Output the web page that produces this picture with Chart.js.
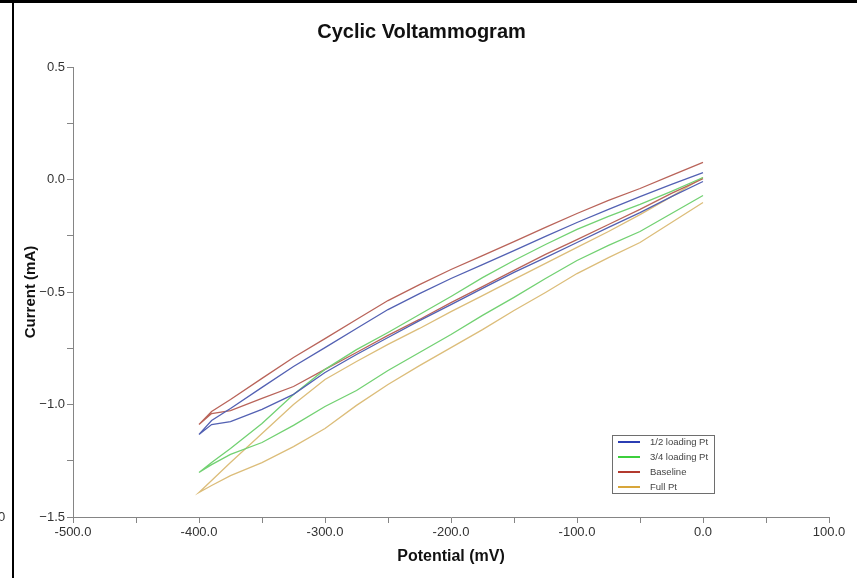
<!DOCTYPE html>
<html><head><meta charset="utf-8">
<script src="https://cdn.jsdelivr.net/npm/chart.js@4.4.0/dist/chart.umd.min.js"></script>
<style>
html,body{margin:0;padding:0;background:#fff;}
#wrap{position:relative;width:861px;height:578px;overflow:hidden;background:#fff;}
#c{position:absolute;left:0;top:0;}
.topline{position:absolute;left:0;top:0;width:857px;height:3px;background:#000;}
.leftline{position:absolute;left:12px;top:0;width:2px;height:578px;background:#000;}
.stray{position:absolute;left:-2px;top:509px;font:13px "Liberation Sans",Arial,sans-serif;color:#333;}
</style></head>
<body>
<div id="wrap">
<canvas id="c" width="861" height="578"></canvas>
<div class="topline"></div><div class="leftline"></div><span class="stray">0</span>
</div>
<script>
// Potential grid (mV) shared by both scan branches
const potential = [-400,-390,-375,-350,-325,-300,-275,-250,-225,-200,-175,-150,-125,-100,-75,-50,-25,0];

// Current (mA) — upper branch / lower branch for each sample
const halfUpper    = [-1.133,-1.071,-1.018,-0.924,-0.831,-0.747,-0.662,-0.578,-0.507,-0.440,-0.378,-0.316,-0.253,-0.191,-0.133,-0.076,-0.022,0.031];
const halfLower    = [-1.133,-1.089,-1.076,-1.022,-0.955,-0.858,-0.778,-0.702,-0.627,-0.556,-0.484,-0.413,-0.347,-0.280,-0.213,-0.147,-0.076,-0.009];
const threeQUpper  = [-1.302,-1.258,-1.196,-1.084,-0.956,-0.844,-0.756,-0.680,-0.600,-0.520,-0.436,-0.360,-0.289,-0.222,-0.164,-0.111,-0.053,0.009];
const threeQLower  = [-1.302,-1.267,-1.222,-1.169,-1.093,-1.009,-0.938,-0.849,-0.769,-0.689,-0.604,-0.524,-0.440,-0.360,-0.293,-0.231,-0.151,-0.071];
const baseUpper    = [-1.089,-1.031,-0.978,-0.884,-0.791,-0.707,-0.622,-0.538,-0.467,-0.400,-0.338,-0.276,-0.213,-0.151,-0.093,-0.040,0.018,0.076];
const baseLower    = [-1.089,-1.040,-1.027,-0.973,-0.920,-0.844,-0.769,-0.693,-0.622,-0.547,-0.476,-0.404,-0.333,-0.267,-0.200,-0.133,-0.062,0.004];
const fullUpper    = [-1.391,-1.338,-1.258,-1.129,-1.000,-0.889,-0.809,-0.733,-0.662,-0.587,-0.516,-0.444,-0.373,-0.302,-0.231,-0.156,-0.076,0.009];
const fullLower    = [-1.391,-1.360,-1.316,-1.258,-1.187,-1.107,-1.004,-0.911,-0.827,-0.747,-0.667,-0.582,-0.502,-0.418,-0.347,-0.280,-0.191,-0.102];

const seriesLabels = ['1/2 loading Pt','3/4 loading Pt','Baseline','Full Pt'];
const seriesColors = ['#5361b3','#72d172','#b9645a','#dcbd7a'];
const legendColors = ['#2b3db3','#3ccf3c','#b33a2f','#d8a63a'];

const xTickValues = [-500,-400,-300,-200,-100,0,100];
const yTickValues = [0.5,0.0,-0.5,-1.0,-1.5];

function loop(upper, lower){
  const pts = [];
  for (let i = potential.length-1; i >= 0; i--) pts.push({x: potential[i], y: upper[i]});
  for (let i = 1; i < potential.length; i++) pts.push({x: potential[i], y: lower[i]});
  return pts;
}
const branches = [[halfUpper,halfLower],[threeQUpper,threeQLower],[baseUpper,baseLower],[fullUpper,fullLower]];

const FONT = '"Liberation Sans",Arial,sans-serif';

const legendBox = {
  id: 'legendBox',
  afterDraw(chart){
    const ctx = chart.ctx, a = chart.chartArea;
    const x0 = a.right - 217, y0 = a.bottom - 82, w = 102, h = 58;
    ctx.save();
    ctx.fillStyle = '#fff';
    ctx.fillRect(x0, y0, w, h);
    ctx.strokeStyle = '#6e6e6e';
    ctx.lineWidth = 1;
    ctx.strokeRect(x0+0.5, y0+0.5, w, h);
    ctx.font = '9.5px "Liberation Sans",Arial,sans-serif';
    ctx.textBaseline = 'middle';
    ctx.textAlign = 'left';
    seriesLabels.forEach((lab, i) => {
      const yy = y0 + 7 + i*15;
      ctx.strokeStyle = legendColors[i];
      ctx.lineWidth = 2;
      ctx.beginPath(); ctx.moveTo(x0+6, yy); ctx.lineTo(x0+28, yy); ctx.stroke();
      ctx.fillStyle = '#444';
      ctx.fillText(lab, x0+38, yy);
    });
    ctx.restore();
  }
};

new Chart(document.getElementById('c'), {
  type: 'scatter',
  data: {
    datasets: seriesLabels.map((lab, i) => ({
      label: lab,
      data: loop(branches[i][0], branches[i][1]),
      showLine: true,
      borderColor: seriesColors[i],
      backgroundColor: seriesColors[i],
      borderWidth: 1.3,
      pointRadius: 0,
      tension: 0
    }))
  },
  options: {
    responsive: false,
    animation: false,
    events: [],
    layout: { padding: { left: 14, right: 32, top: 0, bottom: 0 } },
    plugins: {
      legend: { display: false },
      tooltip: { enabled: false },
      title: {
        display: true,
        text: 'Cyclic Voltammogram',
        color: '#111',
        font: { family: FONT, size: 20, weight: 'bold' },
        padding: { top: 20, bottom: 23 }
      }
    },
    scales: {
      x: {
        type: 'linear', min: -500, max: 100,
        afterFit(s){ s.height = 61; },
        border: { display: true, color: '#858585', width: 1 },
        grid: { drawOnChartArea: false, drawTicks: true, tickLength: 6, color: '#858585' },
        ticks: {
          stepSize: 50, autoSkip: false, maxRotation: 0, padding: 2,
          color: '#333', font: { family: FONT, size: 13 },
          callback: v => xTickValues.includes(v) ? v.toFixed(1) : ''
        },
        title: {
          display: true, text: 'Potential (mV)', color: '#111',
          font: { family: FONT, size: 16, weight: 'bold' },
          padding: { top: 0, bottom: 12 }
        }
      },
      y: {
        type: 'linear', min: -1.5, max: 0.5,
        afterFit(s){ s.width = 59; },
        border: { display: true, color: '#858585', width: 1 },
        grid: { drawOnChartArea: false, drawTicks: true, tickLength: 6, color: '#858585' },
        ticks: {
          stepSize: 0.25, autoSkip: false, padding: 2,
          color: '#333', font: { family: FONT, size: 13 },
          callback: v => yTickValues.some(t => Math.abs(t - v) < 1e-9) ? v.toFixed(1).replace('-', '\u2212') : ''
        },
        title: {
          display: true, text: 'Current (mA)', color: '#111',
          font: { family: FONT, size: 15, weight: 'bold' },
          padding: { top: 8, bottom: 0 }
        }
      }
    }
  },
  plugins: [legendBox]
});
</script>
</body></html>
